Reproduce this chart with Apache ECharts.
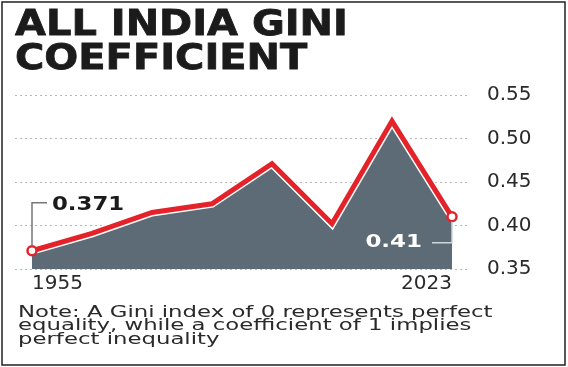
<!DOCTYPE html>
<html><head><meta charset="utf-8">
<script src="https://cdn.jsdelivr.net/npm/echarts@6/dist/echarts.min.js"></script>
<style>html,body{margin:0;padding:0;background:#fff}#c{width:568px;height:367px}</style>
</head><body><div id="c"></div>
<script>
// ---- data ----
const titleLines = ['ALL INDIA GINI', 'COEFFICIENT'];
const noteLines = [
  'Note: A Gini index of 0 represents perfect',
  'equality, while a coefficient of 1 implies',
  'perfect inequality'
];
const categories = ['1955', 'p2', 'p3', 'p4', 'p5', 'p6', 'p7', '2023'];
const gini = [0.371, 0.391, 0.415, 0.425, 0.471, 0.402, 0.52, 0.41];
const yTicks = [0.35, 0.40, 0.45, 0.50, 0.55];
const startLabel = '0.371';
const endLabel = '0.41';

const RED = '#e3222a';
const AREA = '#5c6b75';
const last = gini.length - 1;
const yMin = yTicks[0], yMax = yTicks[yTicks.length - 1], yStep = 0.05;

const chart = echarts.init(document.getElementById('c'), null, {renderer: 'canvas'});
chart.setOption({
  animation: false,
  backgroundColor: '#fff',
  grid: [
    {left: 32, right: 116, top: 95, bottom: 98},
    {left: 15, right: 100, top: 95, bottom: 98}
  ],
  xAxis: [
    {
      type: 'category', gridIndex: 0, data: categories, boundaryGap: false,
      axisLine: {show: false}, axisTick: {show: false},
      axisLabel: {
        interval: (i) => i === 0 || i === last,
        alignMinLabel: 'left', alignMaxLabel: 'right',
        margin: 5, fontSize: 20, color: '#2a2a2a', fontFamily: 'DejaVu Sans'
      }
    },
    {type: 'value', gridIndex: 1, show: false, min: 0, max: 1}
  ],
  yAxis: [
    {type: 'value', gridIndex: 0, min: yMin, max: yMax, interval: yStep, show: false},
    {
      type: 'value', gridIndex: 1, position: 'right', min: yMin, max: yMax, interval: yStep,
      axisLine: {show: false}, axisTick: {show: false},
      splitLine: {show: true, lineStyle: {color: '#b5b5b5', width: 1, type: [2, 3]}},
      axisLabel: {
        margin: 19, fontSize: 20, color: '#2a2a2a', fontFamily: 'DejaVu Sans',
        showMinLabel: true, showMaxLabel: true,
        formatter: (v) => v.toFixed(2)
      }
    }
  ],
  series: [
    {
      type: 'line', xAxisIndex: 0, yAxisIndex: 0, data: gini,
      symbol: 'none', z: 2,
      lineStyle: {color: '#ffffff', width: 8, join: 'miter'},
      areaStyle: {color: AREA, opacity: 1, origin: 'start'}
    },
    {
      type: 'line', xAxisIndex: 0, yAxisIndex: 0, data: gini, z: 3,
      showSymbol: true, showAllSymbol: true,
      symbol: (v, p) => (p.dataIndex === 0 || p.dataIndex === last) ? 'circle' : 'none',
      symbolSize: 9,
      itemStyle: {color: '#ffffff', borderColor: RED, borderWidth: 2.5},
      lineStyle: {color: RED, width: 5, join: 'miter'}
    }
  ]
});

const p0 = chart.convertToPixel({xAxisIndex: 0, yAxisIndex: 0}, [0, gini[0]]);
const pN = chart.convertToPixel({xAxisIndex: 0, yAxisIndex: 0}, [last, gini[last]]);

chart.setOption({
  graphic: [
    {
      type: 'rect', silent: true, z: 100,
      shape: {x: 2, y: 2, width: 563, height: 363},
      style: {fill: 'none', stroke: '#222', lineWidth: 1.5}
    },
    {
      type: 'text', x: 15, y: 9, scaleX: 1.11, z: 100,
      style: {
        text: titleLines.join('\n'), fontFamily: 'DejaVu Sans', fontWeight: 'bold',
        fontSize: 36, lineHeight: 34, fill: '#1b1b1b', verticalAlign: 'top',
        stroke: '#1b1b1b', lineWidth: 0.8
      }
    },
    {
      type: 'text', x: 18, y: 306, scaleX: 1.52, z: 100,
      style: {
        text: noteLines.join('\n'), fontFamily: 'DejaVu Sans',
        fontSize: 15, lineHeight: 13.7, fill: '#2a2a2a', verticalAlign: 'top'
      }
    },
    // leader for first value
    {
      type: 'polyline', z: 50, silent: true,
      shape: {points: [[p0[0], p0[1] - 5], [p0[0], p0[1] - 48], [p0[0] + 15, p0[1] - 48]]},
      style: {stroke: '#777', lineWidth: 1.5, fill: null}
    },
    {
      type: 'text', x: p0[0] + 20, y: p0[1] - 46, scaleX: 1.2, z: 60,
      style: {
        text: startLabel, fontFamily: 'DejaVu Sans', fontWeight: 'bold', fontSize: 19,
        fill: '#1b1b1b', verticalAlign: 'middle'
      }
    },
    // leader for last value
    {
      type: 'polyline', z: 50, silent: true,
      shape: {points: [[pN[0], pN[1] + 5], [pN[0], pN[1] + 26], [pN[0] - 20, pN[1] + 26]]},
      style: {stroke: '#d0d4d8', lineWidth: 1.5, fill: null}
    },
    {
      type: 'text', x: pN[0] - 30, y: pN[1] + 26, scaleX: 1.35, z: 60,
      style: {
        text: endLabel, fontFamily: 'DejaVu Sans', fontWeight: 'bold', fontSize: 17,
        fill: '#ffffff', align: 'right', verticalAlign: 'middle'
      }
    }
  ]
});
</script></body></html>
